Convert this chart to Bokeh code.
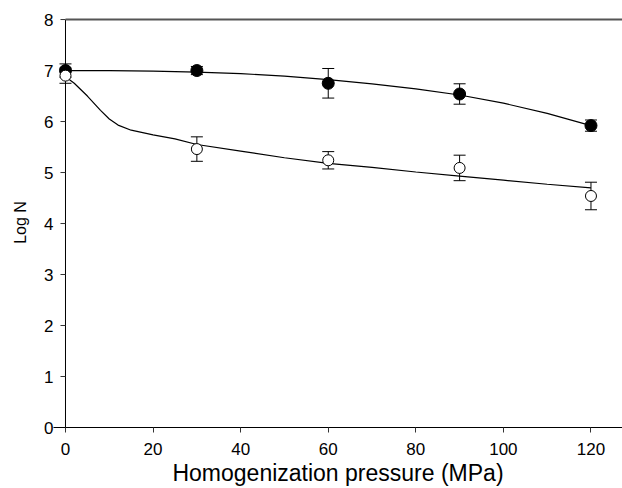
import math
from bokeh.plotting import figure
from bokeh.models import Whisker, ColumnDataSource, Range1d, FixedTicker
from bokeh.embed import file_html
from bokeh.resources import INLINE

# Measured points
pressure = [0, 30, 60, 90, 120]
filled_mean = [7.00, 7.00, 6.75, 6.54, 5.92]
filled_err = [0.13, 0.08, 0.29, 0.20, 0.11]
open_mean = [6.90, 5.46, 5.24, 5.09, 4.54]
open_err = [0.15, 0.24, 0.17, 0.25, 0.27]

# Fitted curves
fit_filled_x = [0, 10, 20, 30, 40, 50, 60, 70, 80, 90, 100, 110, 120]
fit_filled_y = [7.00, 7.00, 6.99, 6.97, 6.94, 6.89, 6.82, 6.74, 6.64, 6.52, 6.36, 6.16, 5.92]
fit_open_x = [0, 2, 5, 8, 10, 12, 15, 20, 25, 30, 40, 50, 60, 70, 80, 90, 100, 110, 120]
fit_open_y = [6.88, 6.75, 6.50, 6.22, 6.05, 5.93, 5.83, 5.74, 5.66, 5.55, 5.42, 5.29, 5.18,
              5.10, 5.01, 4.93, 4.85, 4.77, 4.70]

x_ticks = [0, 20, 40, 60, 80, 100, 120]
y_ticks = [0, 1, 2, 3, 4, 5, 6, 7, 8]

FONT = "Liberation Sans"

p = figure(width=622, height=488, output_backend="svg", toolbar_location=None,
           x_range=Range1d(-2.74, 127.2), y_range=Range1d(0, 8.04),
           min_border_left=53, min_border_right=0, min_border_top=17, min_border_bottom=59)
p.outline_line_color = None
p.grid.grid_line_color = None
p.background_fill_color = "white"

for ax in (p.xaxis[0], p.yaxis[0]):
    ax.axis_line_color = "black"
    ax.axis_line_width = 1
    ax.major_tick_line_color = "#333333"
    ax.major_tick_in = 0
    ax.major_tick_out = 5
    ax.minor_tick_line_color = None
    ax.major_label_text_font = FONT
    ax.major_label_text_font_size = "17px"
    ax.major_label_text_color = "black"
    ax.axis_label_text_font = FONT
    ax.axis_label_text_font_style = "normal"
    ax.axis_label_text_color = "black"

p.xaxis.ticker = FixedTicker(ticks=x_ticks)
p.yaxis.ticker = FixedTicker(ticks=y_ticks)
p.xaxis.major_label_standoff = 10
p.xaxis.axis_label = "Homogenization pressure (MPa)"
p.xaxis.axis_label_text_font_size = "23px"
p.xaxis.axis_label_standoff = 2

# left axis: only labels at frame edge; line and ticks drawn at x = 0
p.yaxis.axis_line_color = None
p.yaxis.major_tick_line_color = None
p.yaxis.major_tick_out = 0
p.yaxis.major_label_standoff = 0
p.yaxis.axis_label = "Log N"
p.yaxis.axis_label_text_font_size = "16px"
p.yaxis.axis_label_standoff = 12

# y axis line, its ticks and the top frame line
p.segment(x0=[x_ticks[0]], y0=[y_ticks[0]], x1=[x_ticks[0]], y1=[y_ticks[-1]],
          line_color="black", line_width=1)
p.ray(x=[x_ticks[0]] * len(y_ticks), y=y_ticks, length=5, length_units="screen",
      angle=math.pi, line_color="#333333", line_width=1)
p.ray(x=[x_ticks[0]], y=[y_ticks[-1]], length=0, angle=0, line_color="#555555", line_width=2)

p.line(fit_filled_x, fit_filled_y, line_color="black", line_width=1.2)
p.line(fit_open_x, fit_open_y, line_color="black", line_width=1.2)

fsrc = ColumnDataSource(dict(x=pressure, y=filled_mean,
                             lo=[m - e for m, e in zip(filled_mean, filled_err)],
                             hi=[m + e for m, e in zip(filled_mean, filled_err)]))
osrc = ColumnDataSource(dict(x=pressure, y=open_mean,
                             lo=[m - e for m, e in zip(open_mean, open_err)],
                             hi=[m + e for m, e in zip(open_mean, open_err)]))
for src in (fsrc, osrc):
    w = Whisker(source=src, base="x", lower="lo", upper="hi", line_color="black", line_width=1)
    w.upper_head.size = 12
    w.lower_head.size = 12
    w.upper_head.line_color = "black"
    w.lower_head.line_color = "black"
    p.add_layout(w)

p.scatter("x", "y", source=fsrc, size=12, fill_color="black", line_color="black")
p.scatter("x", "y", source=osrc, size=11, fill_color="white", line_color="black", line_width=1)

open("out.html", "w").write(file_html(p, INLINE))
